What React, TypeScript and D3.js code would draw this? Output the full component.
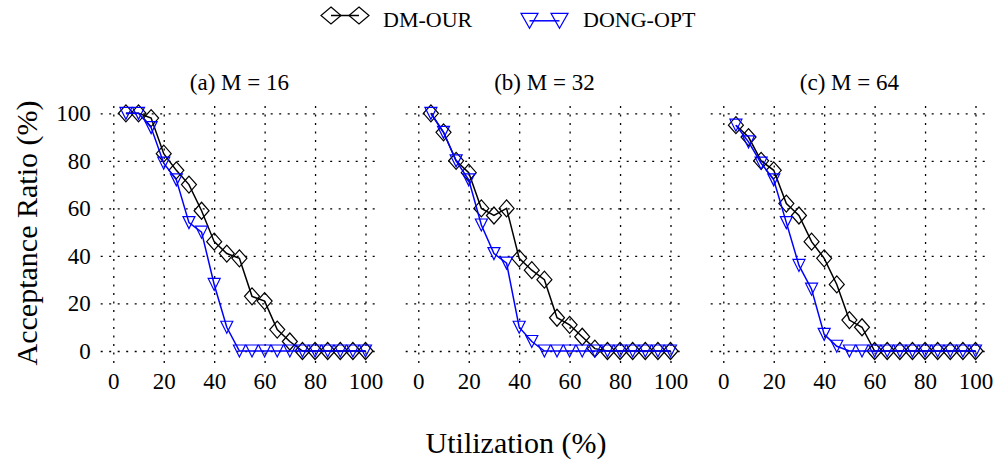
import React from "react";
import * as d3 from "d3";

// utilization points on the x axis
const utilization = [5, 10, 15, 20, 25, 30, 35, 40, 45, 50, 55, 60, 65, 70, 75, 80, 85, 90, 95, 100];

// acceptance ratio (%)
const dmOurM16 = [100, 100, 98, 83, 76, 70, 59, 46, 41, 39, 23, 21, 9, 4, 0, 0, 0, 0, 0, 0];
const dongOptM16 = [100, 100, 94, 79, 72, 54, 50, 28, 10, 0, 0, 0, 0, 0, 0, 0, 0, 0, 0, 0];
const dmOurM32 = [100, 92, 80, 75, 60, 57, 60, 39, 34, 30, 14, 11, 6, 1, 0, 0, 0, 0, 0, 0];
const dongOptM32 = [100, 92, 80, 72, 53, 41, 37, 10, 4, 0, 0, 0, 0, 0, 0, 0, 0, 0, 0, 0];
const dmOurM64 = [95, 90, 80, 76, 62, 57, 46, 39, 28, 13, 10, 0, 0, 0, 0, 0, 0, 0, 0, 0];
const dongOptM64 = [95, 88, 79, 72, 54, 36, 26, 7, 2, 0, 0, 0, 0, 0, 0, 0, 0, 0, 0, 0];

const panelTitles = ["(a) M = 16", "(b) M = 32", "(c) M = 64"];
const seriesNames = ["DM-OUR", "DONG-OPT"];
const xTicks = [0, 20, 40, 60, 80, 100];
const yTicks = [0, 20, 40, 60, 80, 100];

const FONT = "'Liberation Serif', 'Times New Roman', serif";
const BLUE = "#0000ff";

const diamond = (w, h) => `M0,${-h}L${w},0L0,${h}L${-w},0Z`;
const triangleDown = (w, h) => `M${-w},${-h}L${w},${-h}L0,${h}Z`;

const App = () => {
    const svgRef = React.useRef(null);

    React.useEffect(() => {
        document.body.style.margin = "0";
        const svg = d3.select(svgRef.current);
        svg.selectAll("*").remove();

        const panels = [
            { title: panelTitles[0], dm: dmOurM16, dong: dongOptM16 },
            { title: panelTitles[1], dm: dmOurM32, dong: dongOptM32 },
            { title: panelTitles[2], dm: dmOurM64, dong: dongOptM64 },
        ];

        const unit = 2.522;
        const yScale = d3.scaleLinear().domain([-5, 105]).range([362.9, 101.4]);

        panels.forEach((p, i) => {
            const x0 = 113.3 + i * 305;
            const xScale = d3.scaleLinear().domain([-5, 105]).range([x0 - 5 * unit, x0 + 105 * unit]);
            const g = svg.append("g");
            const [xl, xr] = xScale.range();
            const [yb, yt] = yScale.range();

            // grid + x tick labels
            const xAxis = d3.axisBottom(xScale).tickValues(xTicks).tickSize(-(yb - yt)).tickPadding(10);
            const xg = g.append("g").attr("transform", `translate(0,${yb})`).call(xAxis);
            xg.select(".domain").remove();
            xg.selectAll("line").attr("stroke", "#000").attr("stroke-width", 1.3).attr("stroke-dasharray", "2,6.5");
            xg.selectAll("text").attr("font-family", FONT).attr("font-size", 23).attr("fill", "#000");

            const yAxis = d3.axisLeft(yScale).tickValues(yTicks).tickSize(-(xr - xl)).tickPadding(10);
            const yg = g.append("g").attr("transform", `translate(${xl},0)`).call(yAxis);
            yg.select(".domain").remove();
            yg.selectAll("line").attr("stroke", "#000").attr("stroke-width", 1.3).attr("stroke-dasharray", "2,6.5");
            if (i === 0) {
                yg.selectAll("text").attr("font-family", FONT).attr("font-size", 23).attr("fill", "#000");
            } else {
                yg.selectAll("text").remove();
            }

            g.append("text")
                .attr("x", xScale(50))
                .attr("y", 90)
                .attr("text-anchor", "middle")
                .attr("font-family", FONT)
                .attr("font-size", 23)
                .text(p.title);

            const line = d3.line()
                .x((d, j) => xScale(utilization[j]))
                .y((d) => yScale(d));

            // DM-OUR
            g.append("path").attr("d", line(p.dm)).attr("fill", "none").attr("stroke", "#000").attr("stroke-width", 1.5);
            g.selectAll(".dm").data(p.dm).enter().append("path")
                .attr("d", diamond(7.5, 8.5))
                .attr("transform", (d, j) => `translate(${xScale(utilization[j])},${yScale(d)})`)
                .attr("fill", "none").attr("stroke", "#000").attr("stroke-width", 1.2);

            // DONG-OPT
            g.append("path").attr("d", line(p.dong)).attr("fill", "none").attr("stroke", BLUE).attr("stroke-width", 1.5);
            g.selectAll(".dong").data(p.dong).enter().append("path")
                .attr("d", triangleDown(6, 6))
                .attr("transform", (d, j) => `translate(${xScale(utilization[j])},${yScale(d)})`)
                .attr("fill", "none").attr("stroke", BLUE).attr("stroke-width", 1.2);
        });

        // axis labels
        svg.append("text")
            .attr("transform", "translate(37,233) rotate(-90)")
            .attr("text-anchor", "middle")
            .attr("font-family", FONT)
            .attr("font-size", 30)
            .text("Acceptance Ratio (%)");
        svg.append("text")
            .attr("x", 516)
            .attr("y", 453)
            .attr("text-anchor", "middle")
            .attr("font-family", FONT)
            .attr("font-size", 30)
            .text("Utilization (%)");

        // legend
        const lg = svg.append("g");
        lg.append("line").attr("x1", 331).attr("x2", 359).attr("y1", 15.5).attr("y2", 15.5).attr("stroke", "#000").attr("stroke-width", 1.5);
        [331, 359].forEach((cx) => {
            lg.append("path").attr("d", diamond(10, 8.5)).attr("transform", `translate(${cx},15.5)`)
                .attr("fill", "none").attr("stroke", "#000").attr("stroke-width", 1.2);
        });
        lg.append("text").attr("x", 383).attr("y", 27).attr("font-family", FONT).attr("font-size", 22).text(seriesNames[0]);

        lg.append("line").attr("x1", 529.5).attr("x2", 559.5).attr("y1", 20.8).attr("y2", 20.8).attr("stroke", BLUE).attr("stroke-width", 1.5);
        [529.5, 559.5].forEach((cx) => {
            lg.append("path").attr("d", triangleDown(8.5, 7.5)).attr("transform", `translate(${cx},20.8)`)
                .attr("fill", "none").attr("stroke", BLUE).attr("stroke-width", 1.2);
        });
        lg.append("text").attr("x", 583).attr("y", 27).attr("font-family", FONT).attr("font-size", 22).text(seriesNames[1]);
    }, []);

    return <svg ref={svgRef} width={995} height={462} style={{ position: "absolute", left: 0, top: 0, background: "#fff" }} />;
};

export default App;
